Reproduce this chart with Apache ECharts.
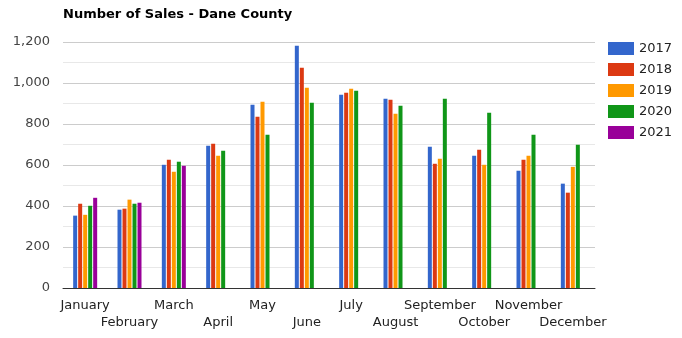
<!DOCTYPE html>
<html>
<head>
<meta charset="utf-8">
<title>Number of Sales - Dane County</title>
<script src="https://cdn.jsdelivr.net/npm/echarts@6/dist/echarts.min.js"></script>
<style>
  html, body { margin: 0; padding: 0; background: #fff; }
  #chart { width: 682px; height: 338px; }
</style>
</head>
<body>
<div id="chart"></div>
<script>
// Monthly home sales in Dane County, one series per year
const months = ['January', 'February', 'March', 'April', 'May', 'June',
  'July', 'August', 'September', 'October', 'November', 'December'];
const years = ['2017', '2018', '2019', '2020', '2021'];

const sales2017 = [353, 382, 601, 694, 894, 1182, 943, 923, 689, 645, 572, 509];
const sales2018 = [411, 387, 626, 704, 835, 1075, 953, 918, 606, 675, 626, 465];
const sales2019 = [357, 431, 567, 645, 909, 977, 972, 850, 630, 601, 645, 591];
const sales2020 = [401, 411, 616, 670, 748, 904, 962, 889, 923, 855, 748, 699];
const sales2021 = [440, 416, 596, null, null, null, null, null, null, null, null, null];

const yTicks = [0, 200, 400, 600, 800, 1000, 1200];

const palette = ['#3366cc', '#dc3912', '#ff9900', '#109618', '#990099'];
const seriesValues = [sales2017, sales2018, sales2019, sales2020, sales2021];
const fontFamily = '"DejaVu Sans", Verdana, sans-serif';

const chart = echarts.init(document.getElementById('chart'), null, { renderer: 'canvas' });

chart.setOption({
  animation: false,
  color: palette,
  textStyle: { fontFamily: fontFamily },
  title: {
    text: 'Number of Sales - Dane County',
    left: 63,
    top: 8,
    padding: 0,
    textStyle: { fontFamily: fontFamily, fontSize: 13, fontWeight: 'bold', color: '#000' }
  },
  legend: {
    orient: 'vertical',
    left: 608,
    top: 42,
    padding: 0,
    icon: 'rect',
    itemWidth: 26,
    itemHeight: 13,
    itemGap: 8,
    textStyle: { fontFamily: fontFamily, fontSize: 13, color: '#222' },
    data: years
  },
  grid: { left: 63, right: 87, top: 42, bottom: 50, containLabel: false },
  xAxis: {
    type: 'category',
    data: months,
    axisLine: { lineStyle: { color: '#333', width: 1 } },
    axisTick: { show: false },
    axisLabel: {
      interval: 0,
      margin: 9,
      fontFamily: fontFamily,
      fontSize: 13,
      color: '#222',
      lineHeight: 17,
      formatter: function (value, index) {
        return index % 2 === 1 ? '\n' + value : value;
      }
    }
  },
  yAxis: {
    type: 'value',
    min: yTicks[0],
    max: yTicks[yTicks.length - 1],
    interval: yTicks[1] - yTicks[0],
    axisLine: { show: false },
    axisTick: { show: false },
    axisLabel: {
      margin: 13,
      fontFamily: fontFamily,
      fontSize: 13,
      color: '#444',
      formatter: function (v) { return v.toLocaleString('en-US'); }
    },
    splitLine: { lineStyle: { color: '#cccccc', width: 1 } },
    minorTick: { show: false, splitNumber: 2 },
    minorSplitLine: { show: true, lineStyle: { color: '#e8e8e8', width: 1 } }
  },
  series: years.map(function (year, i) {
    return {
      name: year,
      type: 'bar',
      data: seriesValues[i],
      barWidth: 4,
      barGap: '25%',
      itemStyle: { color: palette[i] }
    };
  })
});
</script>
</body>
</html>
